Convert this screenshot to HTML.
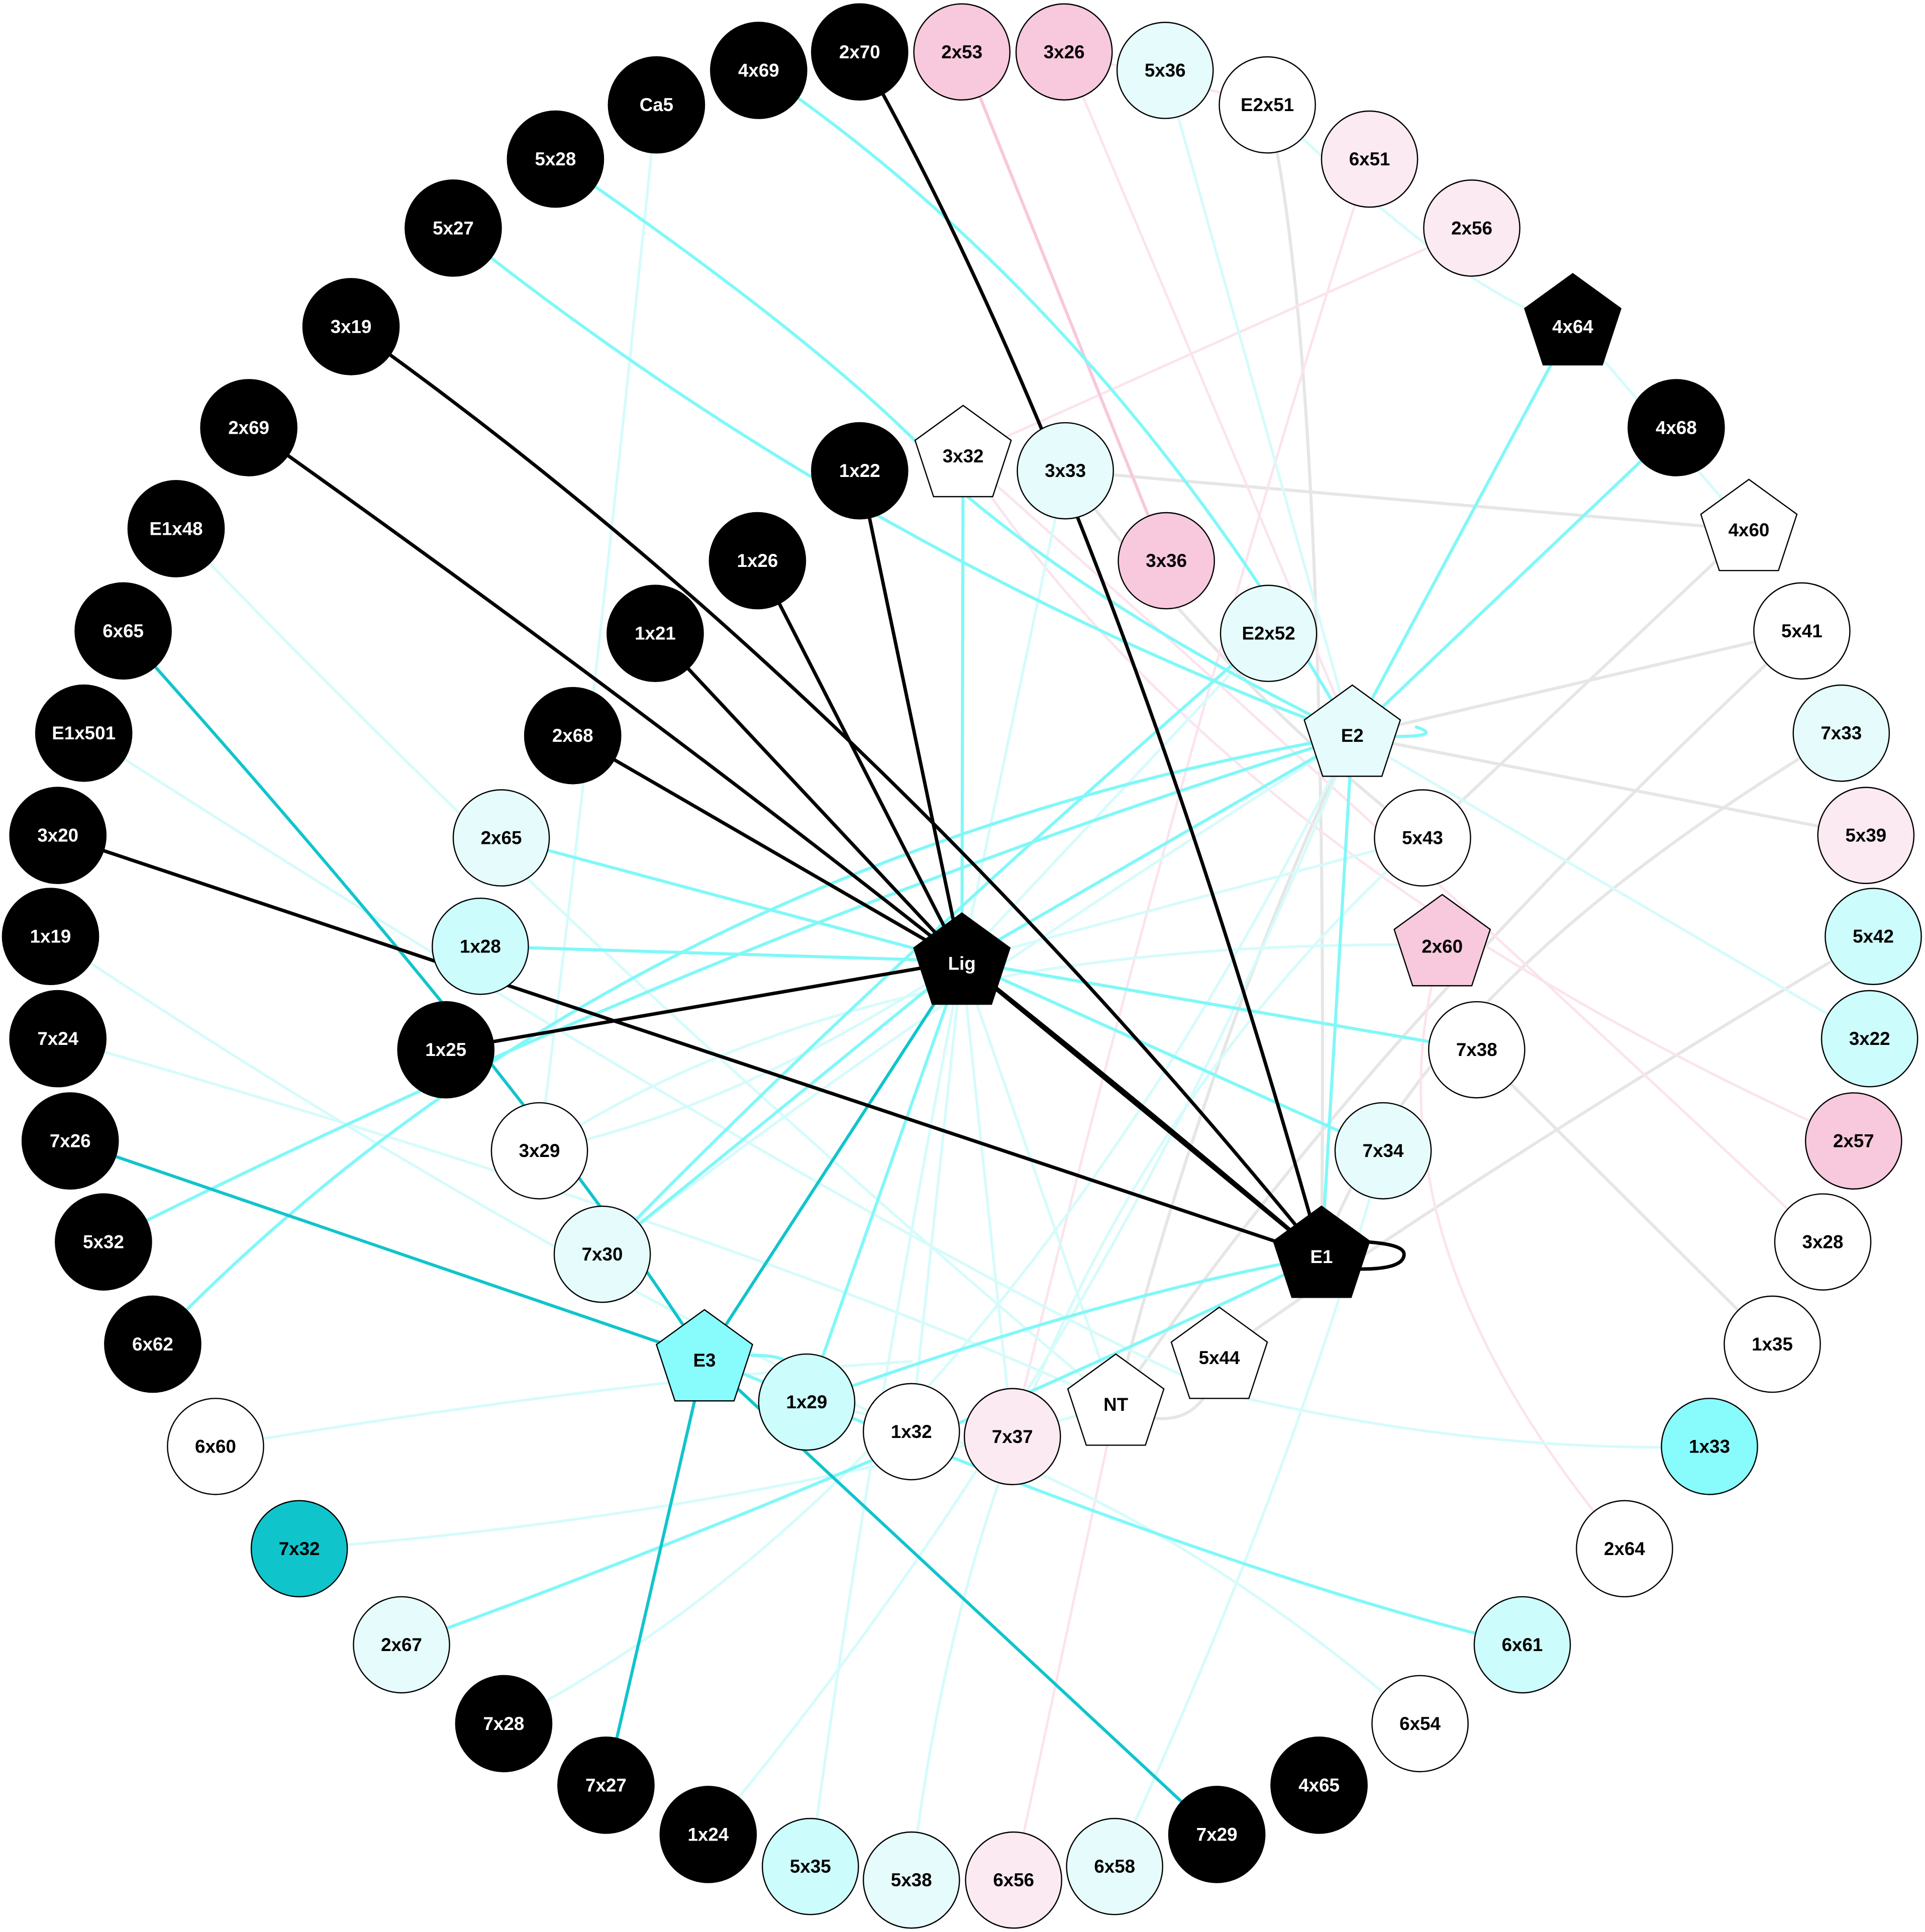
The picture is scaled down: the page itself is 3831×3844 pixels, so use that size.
<!DOCTYPE html>
<html><head><meta charset="utf-8"><style>
html,body{margin:0;padding:0;background:#fff}
svg{display:block}
text{font-family:"Liberation Sans",Arial,sans-serif;font-weight:bold;font-size:15px;text-anchor:middle;dominant-baseline:central}
</style></head><body>
<svg width="3831" height="3844" viewBox="0 0 1563 1568" xmlns="http://www.w3.org/2000/svg">
<defs>
<polygon id="pg" points="0,-41 39,-12.7 24,33 -24,33 -39,-12.7"/>
</defs>
<g fill="none" stroke-linecap="round">
<g stroke="#e6e6e6" stroke-width="2.5">
<path d="M865,382 L1420,430"/>
<path d="M1098,597 L1463,512"/>
<path d="M1098,597 L1515,678"/>
<path d="M1420,430 L1155,680"/>
<path d="M1029,85 Q1080,300 1073,1020"/>
<path d="M1463,512 Q1100,850 906,1140"/>
<path d="M1495,595 Q1150,800 1073,1020"/>
<path d="M1521,760 Q1200,950 990,1100"/>
<path d="M1199,852 L1439,1091"/>
<path d="M1098,597 Q980,850 906,1140"/>
<path d="M865,382 Q1000,560 1155,680"/>
<path d="M990,1100 Q980,1160 930,1150"/>
</g>
<g stroke="#fbe4ee" stroke-width="2">
<path d="M864,42 L1098,597"/>
<path d="M1112,129 Q960,600 822,1166"/>
<path d="M1195,185 L782,370"/>
<path d="M782,370 Q1000,700 1505,926"/>
<path d="M1171,767 Q1100,1000 1319,1257"/>
<path d="M906,1140 Q860,1350 823,1526"/>
<path d="M864,42 L1029,85"/>
<path d="M782,370 Q1100,650 1480,1008"/>
</g>
<path d="M781,42 L947,455" stroke="#f8c8dc" stroke-width="2.5"/>
<g stroke="#d6fbfb" stroke-width="2.2">
<path d="M533,85 Q480,600 438,934"/>
<path d="M143,429 Q500,800 906,1140"/>
<path d="M68,595 Q700,1000 990,1130 Q1200,1180 1388,1174"/>
<path d="M41,760 Q400,1000 740,1162"/>
<path d="M47,843 Q600,1000 906,1140"/>
<path d="M175,1174 Q500,1120 740,1105"/>
<path d="M243,1257 Q600,1230 906,1140"/>
<path d="M409,1399 Q800,1200 1098,597"/>
<path d="M575,1489 Q900,1100 1098,597"/>
<path d="M740,1526 Q800,1000 1155,680"/>
<path d="M905,1515 Q1050,1200 1123,934"/>
<path d="M1029,85 Q1200,250 1277,263"/>
<path d="M1277,263 L1420,430"/>
<path d="M946,57 L1098,597"/>
<path d="M1098,597 L1518,843"/>
<path d="M655,1138 Q900,1180 1153,1399"/>
<path d="M438,934 Q700,760 1171,767"/>
<path d="M489,1018 Q700,850 1098,597"/>
<path d="M658,1515 Q700,1200 781,780"/>
<path d="M781,780 L740,1162"/>
<path d="M781,780 L906,1140"/>
<path d="M781,780 Q600,900 438,934"/>
<path d="M781,780 L1155,680"/>
<path d="M781,780 L1030,514"/>
<path d="M781,780 L865,382"/>
<path d="M781,780 L822,1166"/>
</g>
<g stroke="#80f8f8" stroke-width="2.5">
<path d="M407,680 L781,780"/>
<path d="M390,768 L781,780"/>
<path d="M781,780 L1199,852"/>
<path d="M781,780 L1123,934"/>
<path d="M781,780 L655,1138"/>
<path d="M781,780 L782,370"/>
<path d="M781,780 L1098,597"/>
<path d="M781,780 L489,1018"/>
<path d="M489,1018 Q700,800 1030,514"/>
<path d="M368,185 Q700,450 1098,597"/>
<path d="M451,129 Q700,300 782,400 Q900,500 1098,597"/>
<path d="M616,57 Q900,250 1098,597"/>
<path d="M1361,347 L1098,597"/>
<path d="M1277,263 L1098,597"/>
<path d="M1098,597 L1073,1020"/>
<path d="M84,1008 Q600,750 1098,597"/>
<path d="M124,1091 Q500,700 1098,597"/>
<path d="M326,1335 Q700,1200 1073,1020"/>
<path d="M655,1138 Q900,1050 1073,1020"/>
<path d="M572,1102 Q1000,1280 1236,1335"/>
<path d="M1098,597 Q1180,600 1150,590"/>
<path d="M610,1100 Q650,1100 635,1115"/>
</g>
<g stroke="#10c4cc" stroke-width="2.5">
<path d="M781,780 L572,1102"/>
<path d="M100,512 Q430,880 572,1102"/>
<path d="M57,926 L572,1102"/>
<path d="M572,1102 L492,1449"/>
<path d="M572,1102 L988,1489"/>
</g>
<g stroke="#000" stroke-width="2.8">
<path d="M698,382 L781,780"/>
<path d="M615,455 L781,780"/>
<path d="M532,514 L781,780"/>
<path d="M465,597 L781,780"/>
<path d="M362,852 L781,780"/>
<path d="M781,780 L1073,1020"/>
<path d="M47,678 L1073,1020"/>
<path d="M202,347 Q700,700 1073,1020"/>
<path d="M285,265 Q700,560 1073,1020"/>
<path d="M698,42 Q900,400 1073,1020"/>
<path d="M1110,1008 Q1140,1010 1140,1018 Q1140,1030 1105,1030"/>
</g>
</g>
<g stroke="#000" stroke-width="1">
<g fill="#000">
<circle cx="698" cy="42" r="39"/><circle cx="616" cy="57" r="39"/><circle cx="533" cy="85" r="39"/><circle cx="451" cy="129" r="39"/><circle cx="368" cy="185" r="39"/><circle cx="285" cy="265" r="39"/><circle cx="202" cy="347" r="39"/><circle cx="143" cy="429" r="39"/><circle cx="100" cy="512" r="39"/><circle cx="68" cy="595" r="39"/><circle cx="47" cy="678" r="39"/><circle cx="41" cy="760" r="39"/><circle cx="47" cy="843" r="39"/><circle cx="57" cy="926" r="39"/><circle cx="84" cy="1008" r="39"/><circle cx="124" cy="1091" r="39"/><circle cx="698" cy="382" r="39"/><circle cx="615" cy="455" r="39"/><circle cx="532" cy="514" r="39"/><circle cx="465" cy="597" r="39"/><circle cx="362" cy="852" r="39"/><circle cx="1361" cy="347" r="39"/><circle cx="409" cy="1399" r="39"/><circle cx="492" cy="1449" r="39"/><circle cx="575" cy="1489" r="39"/><circle cx="988" cy="1489" r="39"/><circle cx="1071" cy="1449" r="39"/>
</g>
<g fill="#f8c8dc"><circle cx="781" cy="42" r="39"/><circle cx="864" cy="42" r="39"/><circle cx="947" cy="455" r="39"/><circle cx="1505" cy="926" r="39"/></g>
<g fill="#fbeaf2"><circle cx="1112" cy="129" r="39"/><circle cx="1195" cy="185" r="39"/><circle cx="1515" cy="678" r="39"/><circle cx="822" cy="1166" r="39"/><circle cx="823" cy="1526" r="39"/></g>
<g fill="#e6fcfc"><circle cx="946" cy="57" r="39"/><circle cx="865" cy="382" r="39"/><circle cx="1030" cy="514" r="39"/><circle cx="407" cy="680" r="39"/><circle cx="1495" cy="595" r="39"/><circle cx="489" cy="1018" r="39"/><circle cx="1123" cy="934" r="39"/><circle cx="326" cy="1335" r="39"/><circle cx="740" cy="1526" r="39"/><circle cx="905" cy="1515" r="39"/></g>
<g fill="#ccfcfc"><circle cx="390" cy="768" r="39"/><circle cx="1521" cy="760" r="39"/><circle cx="1518" cy="843" r="39"/><circle cx="655" cy="1138" r="39"/><circle cx="1236" cy="1335" r="39"/><circle cx="658" cy="1515" r="39"/></g>
<g fill="#fff"><circle cx="1029" cy="85" r="39"/><circle cx="1463" cy="512" r="39"/><circle cx="1155" cy="680" r="39"/><circle cx="1199" cy="852" r="39"/><circle cx="438" cy="934" r="39"/><circle cx="1480" cy="1008" r="39"/><circle cx="1439" cy="1091" r="39"/><circle cx="740" cy="1162" r="39"/><circle cx="175" cy="1174" r="39"/><circle cx="1319" cy="1257" r="39"/><circle cx="1153" cy="1399" r="39"/></g>
<circle cx="1388" cy="1174" r="39" fill="#88fcfc"/>
<circle cx="243" cy="1257" r="39" fill="#10c4cc"/>
<use href="#pg" x="781" y="782" fill="#000"/>
<use href="#pg" x="1098" y="597" fill="#e6fcfc"/>
<use href="#pg" x="1073" y="1020" fill="#000"/>
<use href="#pg" x="572" y="1104" fill="#88fcfc"/>
<use href="#pg" x="906" y="1140" fill="#fff"/>
<use href="#pg" x="990" y="1102" fill="#fff"/>
<use href="#pg" x="782" y="370" fill="#fff"/>
<use href="#pg" x="1420" y="430" fill="#fff"/>
<use href="#pg" x="1277" y="263" fill="#000"/>
<use href="#pg" x="1171" y="767" fill="#f8c8dc"/>
</g>
<g fill="#fff">
<text x="698" y="42">2x70</text><text x="616" y="57">4x69</text><text x="533" y="85">Ca5</text><text x="451" y="129">5x28</text><text x="368" y="185">5x27</text><text x="285" y="265">3x19</text><text x="202" y="347">2x69</text><text x="143" y="429">E1x48</text><text x="100" y="512">6x65</text><text x="68" y="595">E1x501</text><text x="47" y="678">3x20</text><text x="41" y="760">1x19</text><text x="47" y="843">7x24</text><text x="57" y="926">7x26</text><text x="84" y="1008">5x32</text><text x="124" y="1091">6x62</text><text x="698" y="382">1x22</text><text x="615" y="455">1x26</text><text x="532" y="514">1x21</text><text x="465" y="597">2x68</text><text x="362" y="852">1x25</text><text x="1361" y="347">4x68</text><text x="409" y="1399">7x28</text><text x="492" y="1449">7x27</text><text x="575" y="1489">1x24</text><text x="988" y="1489">7x29</text><text x="1071" y="1449">4x65</text>
<text x="781" y="782">Lig</text><text x="1073" y="1020">E1</text><text x="1277" y="265">4x64</text>
</g>
<g fill="#000">
<text x="781" y="42">2x53</text><text x="864" y="42">3x26</text><text x="947" y="455">3x36</text><text x="1505" y="926">2x57</text>
<text x="1112" y="129">6x51</text><text x="1195" y="185">2x56</text><text x="1515" y="678">5x39</text><text x="822" y="1166">7x37</text><text x="823" y="1526">6x56</text>
<text x="946" y="57">5x36</text><text x="865" y="382">3x33</text><text x="1030" y="514">E2x52</text><text x="407" y="680">2x65</text><text x="1495" y="595">7x33</text><text x="489" y="1018">7x30</text><text x="1123" y="934">7x34</text><text x="326" y="1335">2x67</text><text x="740" y="1526">5x38</text><text x="905" y="1515">6x58</text>
<text x="390" y="768">1x28</text><text x="1521" y="760">5x42</text><text x="1518" y="843">3x22</text><text x="655" y="1138">1x29</text><text x="1236" y="1335">6x61</text><text x="658" y="1515">5x35</text>
<text x="1029" y="85">E2x51</text><text x="1463" y="512">5x41</text><text x="1155" y="680">5x43</text><text x="1199" y="852">7x38</text><text x="438" y="934">3x29</text><text x="1480" y="1008">3x28</text><text x="1439" y="1091">1x35</text><text x="740" y="1162">1x32</text><text x="175" y="1174">6x60</text><text x="1319" y="1257">2x64</text><text x="1153" y="1399">6x54</text>
<text x="1388" y="1174">1x33</text><text x="243" y="1257">7x32</text>
<text x="1098" y="597">E2</text><text x="572" y="1104">E3</text><text x="906" y="1140">NT</text><text x="990" y="1102">5x44</text><text x="782" y="370">3x32</text><text x="1420" y="430">4x60</text><text x="1171" y="768">2x60</text>
</g>
</svg>
</body></html>
